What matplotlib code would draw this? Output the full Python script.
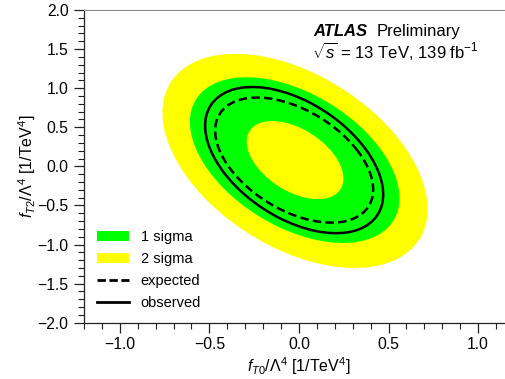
import numpy as np
import matplotlib
matplotlib.use("Agg")
import matplotlib.pyplot as plt
from matplotlib.patches import Ellipse, Patch
from matplotlib.lines import Line2D
from matplotlib.ticker import MultipleLocator

plt.rcParams['font.family'] = ['Liberation Sans', 'DejaVu Sans']
plt.rcParams['mathtext.fontset'] = 'custom'
plt.rcParams['mathtext.rm'] = 'Liberation Sans'
plt.rcParams['mathtext.it'] = 'Liberation Sans:italic'
plt.rcParams['mathtext.bf'] = 'Liberation Sans:bold'

# ---- data: limit contours (centre, x half-extent, y half-extent, correlation) ----
contour_names = ["2 sigma outer", "1 sigma outer", "observed", "expected", "1 sigma inner"]
center_x = [-0.022, -0.024, -0.027, -0.027, -0.022]
center_y = [0.07, 0.08, 0.08, 0.08, 0.08]
half_x = [0.74, 0.585, 0.497, 0.441, 0.27]
half_y = [1.37, 1.06, 0.935, 0.80, 0.50]
rho = [-0.45, -0.46, -0.47, -0.47, -0.47]

legend_labels = ["1 sigma", "2 sigma", "expected", "observed"]
x_ticks = [-1.0, -0.5, 0.0, 0.5, 1.0]
y_ticks = [-2.0, -1.5, -1.0, -0.5, 0.0, 0.5, 1.0, 1.5, 2.0]

GREEN = '#00ff00'
YELLOW = '#ffff00'

W, H = 506, 379
fig = plt.figure(figsize=(W / 100, H / 100), dpi=100)
ax = fig.add_axes([84 / W, (H - 322.7) / H, (514 - 84) / W, (322.7 - 10) / H])
ax.set_xlim(-1.2, 1.2)
ax.set_ylim(-2.0, 2.0)


def make_ellipse(i, **kw):
    sx, sy, r = half_x[i], half_y[i], rho[i]
    cov = np.array([[sx * sx, r * sx * sy], [r * sx * sy, sy * sy]])
    vals, vecs = np.linalg.eigh(cov)
    ang = np.degrees(np.arctan2(vecs[1, 1], vecs[0, 1]))
    return Ellipse((center_x[i], center_y[i]), 2 * np.sqrt(vals[1]), 2 * np.sqrt(vals[0]),
                   angle=ang, **kw)

ax.add_patch(make_ellipse(0, facecolor=YELLOW, edgecolor='none', zorder=1))
ax.add_patch(make_ellipse(1, facecolor=GREEN, edgecolor='none', zorder=2))
ax.add_patch(make_ellipse(4, facecolor=YELLOW, edgecolor='none', zorder=3))
dash = (0, (3.4, 1.7))
ax.add_patch(make_ellipse(3, facecolor='none', edgecolor='black', lw=1.8, linestyle=dash, zorder=4))
ax.add_patch(make_ellipse(2, facecolor='none', edgecolor='black', lw=1.8, zorder=5))

ax.set_xticks(x_ticks)
ax.set_yticks(y_ticks)
ax.set_xticklabels([f"{v:.1f}".replace('-', '\u2212') for v in x_ticks])
ax.set_yticklabels([f"{v:.1f}".replace('-', '\u2212') for v in y_ticks])
ax.xaxis.set_minor_locator(MultipleLocator(0.1))
ax.yaxis.set_minor_locator(MultipleLocator(0.1))
ax.tick_params(which='major', direction='out', length=7, width=0.9, labelsize=11.3, color='#222222')
ax.tick_params(axis='x', which='major', pad=3.5)
ax.tick_params(axis='y', which='major', pad=4)
ax.tick_params(which='minor', direction='out', length=4, width=0.8, color='#222222')
ax.tick_params(top=False, right=False, which='both')
for s in ['left', 'bottom']:
    ax.spines[s].set_color('#222222')
    ax.spines[s].set_linewidth(0.9)
ax.spines['top'].set_color('#888888')
ax.spines['right'].set_visible(False)

ax.set_xlabel(r'$f_{T0}/\Lambda^4$ [1/TeV$^4$]', fontsize=11.5, labelpad=2)
ax.set_ylabel(r'$f_{T2}/\Lambda^4$ [1/TeV$^4$]', fontsize=11.5, labelpad=0)

fig.text(313 / W, 1 - 36 / H, 'ATLAS', fontsize=12, fontweight='bold', style='italic', va='baseline')
fig.text(377 / W, 1 - 36 / H, 'Preliminary', fontsize=12, va='baseline')
fig.text(312 / W, 1 - 58 / H, r'$\sqrt{s}$ = 13 TeV, 139 fb$^{-1}$', fontsize=12, va='baseline')

handles = [Patch(facecolor=GREEN, edgecolor='none'),
           Patch(facecolor=YELLOW, edgecolor='none'),
           Line2D([], [], color='black', lw=2.0, linestyle=(0, (3.0, 1.3))),
           Line2D([], [], color='black', lw=2.0)]
ax.legend(handles, legend_labels, loc='upper left', bbox_to_anchor=(97 / W, 1 - 230 / H),
          bbox_transform=fig.transFigure, frameon=False, fontsize=10.5, borderpad=0,
          borderaxespad=0, handlelength=2.2, handletextpad=0.8, labelspacing=0.55)

fig.savefig('out.png', dpi=100)
